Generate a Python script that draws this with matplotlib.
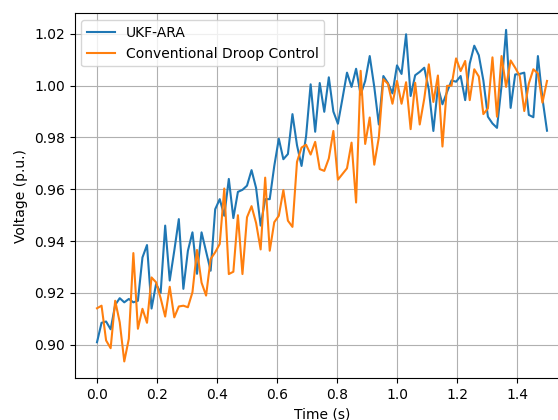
import numpy as np
import matplotlib
matplotlib.use("Agg")
import matplotlib.pyplot as plt

time_s = np.linspace(0, 1.5, 100)

ukf_ara = [
    0.901, 0.9085, 0.909, 0.906, 0.9154, 0.918, 0.9164, 0.9177, 0.9164, 0.917,
    0.9337, 0.9385, 0.914, 0.9235, 0.920, 0.946, 0.9248, 0.9363, 0.9485, 0.9216,
    0.9363, 0.9434, 0.9274, 0.9434, 0.936, 0.9286, 0.9523, 0.9562, 0.9498, 0.964,
    0.9489, 0.959, 0.9598, 0.9614, 0.9674, 0.9605, 0.946, 0.9562, 0.9562, 0.969,
    0.9795, 0.9716, 0.9736, 0.989, 0.977, 0.969, 0.9805, 1.0005, 0.9822, 1.001,
    0.9899, 1.0032, 0.990, 0.9853, 0.995, 1.005, 0.9995, 1.0065, 0.9965, 1.0018,
    1.0114, 0.9995, 0.985, 1.0037, 1.001, 0.997, 1.0078, 1.0045, 1.0198, 0.996,
    1.004, 1.0053, 1.0069, 0.9985, 0.9825, 0.9995, 0.9928, 0.9975, 1.002, 1.0015,
    1.0037, 0.9944, 1.0085, 1.0154, 1.0117, 1.002, 0.988, 0.9854, 0.9837, 1.0,
    1.0215, 0.9914, 1.0043, 1.0045, 1.005, 0.9887, 0.9878, 1.0114, 0.995, 0.9826,
]

droop = [
    0.9141, 0.9151, 0.9017, 0.8987, 0.917, 0.9087, 0.8936, 0.9023, 0.9354, 0.9062,
    0.9139, 0.9085, 0.926, 0.9241, 0.918, 0.9109, 0.9224, 0.9106, 0.9148, 0.9151,
    0.9145, 0.9203, 0.9366, 0.924, 0.919, 0.9331, 0.9357, 0.9389, 0.9603, 0.9273,
    0.9282, 0.950, 0.9273, 0.9492, 0.9535, 0.947, 0.9368, 0.9645, 0.9363, 0.9473,
    0.9498, 0.9597, 0.9479, 0.9455, 0.9706, 0.9761, 0.9772, 0.9734, 0.9783, 0.9678,
    0.9671, 0.9719, 0.9825, 0.9637, 0.9659, 0.9681, 0.978, 0.9549, 1.0057, 0.9775,
    0.9877, 0.9695, 0.980, 1.0025, 1.0007, 0.993, 1.0018, 0.993, 1.0013, 0.9832,
    1.0011, 0.985, 0.995, 1.0082, 0.9937, 1.0039, 0.9765, 0.9999, 1.0, 1.0105,
    1.0056, 1.0095, 0.9944, 1.0063, 1.0035, 0.989, 0.9912, 1.0109, 0.988, 1.0114,
    0.9995, 1.0097, 1.0069, 1.0037, 0.9902, 1.0008, 1.0063, 1.0047, 0.9934, 1.0018,
]

labels = ["UKF-ARA", "Conventional Droop Control"]

fig = plt.figure(figsize=(5.58, 4.20), dpi=100)
ax = fig.add_axes([74.5 / 558, 42 / 420, 495 / 558, 364.7 / 420])
ax.plot(time_s, ukf_ara, color="#1f77b4", linewidth=1.5, label=labels[0])
ax.plot(time_s, droop, color="#ff7f0e", linewidth=1.5, label=labels[1])
ax.set_xlabel("Time (s)")
ax.set_ylabel("Voltage (p.u.)")
ax.set_xticks([0.0, 0.2, 0.4, 0.6, 0.8, 1.0, 1.2, 1.4])
ax.set_yticks([0.90, 0.92, 0.94, 0.96, 0.98, 1.00, 1.02])
ax.grid(True)
ax.legend(loc="upper left")
fig.savefig("out.png", dpi=100)
